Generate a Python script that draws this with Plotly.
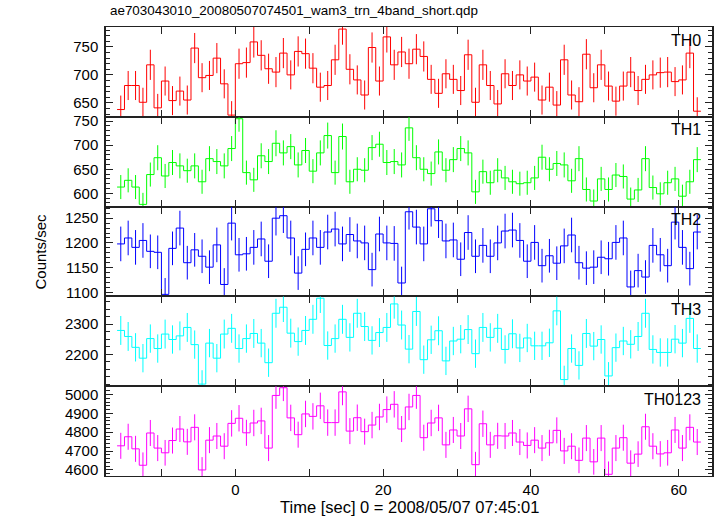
import plotly.graph_objects as go

# ---- data (bin centres in seconds, rates in counts/sec) ----
time = [-15.5, -14.5, -13.5, -12.5, -11.5, -10.5, -9.5, -8.5, -7.5, -6.5,
        -5.5, -4.5, -3.5, -2.5, -1.5, -0.5, 0.5, 1.5, 2.5, 3.5,
        4.5, 5.5, 6.5, 7.5, 8.5, 9.5, 10.5, 11.5, 12.5, 13.5,
        14.5, 15.5, 16.5, 17.5, 18.5, 19.5, 20.5, 21.5, 22.5, 23.5,
        24.5, 25.5, 26.5, 27.5, 28.5, 29.5, 30.5, 31.5, 32.5, 33.5,
        34.5, 35.5, 36.5, 37.5, 38.5, 39.5, 40.5, 41.5, 42.5, 43.5,
        44.5, 45.5, 46.5, 47.5, 48.5, 49.5, 50.5, 51.5, 52.5, 53.5,
        54.5, 55.5, 56.5, 57.5, 58.5, 59.5, 60.5, 61.5, 62.5]

th0 = [638, 681, 681, 651, 718, 641, 689, 654, 671, 655,
       748, 695, 699, 730, 684, 628, 720, 722, 759, 735,
       711, 705, 739, 700, 742, 738, 712, 678, 681, 727,
       782, 710, 691, 664, 749, 689, 768, 718, 741, 720,
       746, 733, 692, 667, 702, 692, 672, 736, 651, 718,
       681, 648, 702, 681, 700, 689, 696, 655, 678, 646,
       727, 664, 652, 737, 677, 718, 680, 653, 680, 705,
       672, 692, 700, 704, 705, 688, 691, 739, 635]
th0_err = [25, 26, 26, 26, 27, 25, 26, 26, 26, 26,
           27, 26, 26, 27, 26, 25, 27, 27, 28, 27,
           27, 27, 27, 26, 27, 27, 27, 26, 26, 27,
           28, 27, 26, 26, 27, 26, 28, 27, 27, 27,
           27, 27, 26, 26, 26, 26, 26, 27, 26, 27,
           26, 25, 26, 26, 26, 26, 26, 26, 26, 25,
           27, 26, 26, 27, 26, 27, 26, 26, 26, 27,
           26, 26, 26, 27, 27, 26, 26, 27, 25]

th1 = [613, 627, 613, 577, 639, 674, 636, 664, 657, 647,
       657, 624, 672, 666, 657, 693, 755, 643, 628, 678,
       666, 704, 684, 697, 659, 689, 646, 684, 720, 643,
       718, 624, 650, 648, 695, 702, 664, 666, 659, 736,
       674, 650, 641, 686, 648, 670, 693, 684, 603, 645,
       622, 648, 632, 624, 620, 622, 632, 675, 650, 662,
       659, 626, 672, 608, 584, 630, 608, 638, 635, 588,
       607, 672, 612, 599, 622, 630, 594, 624, 670]
th1_err = [25, 25, 25, 24, 25, 26, 25, 26, 26, 25,
           26, 25, 26, 26, 26, 26, 27, 25, 25, 26,
           26, 27, 26, 26, 26, 26, 25, 26, 27, 25,
           27, 25, 25, 25, 26, 26, 26, 26, 26, 27,
           26, 25, 25, 26, 25, 26, 26, 26, 25, 25,
           25, 25, 25, 25, 25, 25, 25, 26, 25, 26,
           26, 25, 26, 25, 24, 25, 25, 25, 25, 24,
           25, 26, 25, 24, 25, 25, 24, 25, 26]

th2 = [1198, 1210, 1191, 1205, 1183, 1181, 1096, 1189, 1230, 1160,
       1186, 1173, 1151, 1196, 1116, 1240, 1176, 1178, 1191, 1208,
       1163, 1250, 1255, 1210, 1139, 1187, 1210, 1191, 1222, 1228,
       1198, 1217, 1204, 1200, 1146, 1218, 1200, 1199, 1119, 1263,
       1232, 1198, 1269, 1245, 1204, 1206, 1167, 1221, 1173, 1195,
       1173, 1200, 1224, 1226, 1205, 1163, 1201, 1154, 1174, 1159,
       1194, 1216, 1160, 1149, 1151, 1171, 1168, 1201, 1210, 1111,
       1144, 1131, 1195, 1176, 1154, 1242, 1191, 1148, 1222]
th2_err = [35, 35, 35, 35, 34, 34, 33, 34, 35, 34,
           34, 34, 34, 35, 33, 35, 34, 34, 35, 35,
           34, 35, 35, 35, 34, 34, 35, 35, 35, 35,
           35, 35, 35, 35, 34, 35, 35, 35, 33, 36,
           35, 35, 36, 35, 35, 35, 34, 35, 34, 35,
           34, 35, 35, 35, 35, 34, 35, 34, 34, 34,
           35, 35, 34, 34, 34, 34, 34, 35, 35, 33,
           34, 34, 35, 34, 34, 35, 35, 34, 35]

th3 = [2279, 2259, 2223, 2187, 2252, 2219, 2267, 2249, 2261, 2289,
       2232, 2101, 2237, 2187, 2267, 2286, 2219, 2252, 2269, 2237,
       2172, 2336, 2356, 2270, 2242, 2279, 2316, 2386, 2229, 2252,
       2316, 2256, 2336, 2292, 2246, 2272, 2289, 2367, 2297, 2217,
       2342, 2182, 2248, 2278, 2178, 2244, 2250, 2282, 2202, 2289,
       2256, 2286, 2216, 2268, 2221, 2254, 2228, 2228, 2238, 2344,
       2116, 2219, 2163, 2269, 2227, 2249, 2128, 2222, 2244, 2233,
       2259, 2336, 2216, 2206, 2206, 2250, 2237, 2319, 2219]
th3_err = [48, 48, 47, 47, 47, 47, 48, 47, 48, 48,
           47, 46, 47, 47, 48, 48, 47, 47, 48, 47,
           47, 48, 49, 48, 47, 48, 48, 49, 47, 47,
           48, 47, 48, 48, 47, 48, 48, 49, 48, 47,
           48, 47, 47, 48, 47, 47, 47, 48, 47, 48,
           47, 48, 47, 48, 47, 47, 47, 47, 47, 48,
           46, 47, 47, 48, 47, 47, 46, 47, 47, 47,
           48, 48, 47, 47, 47, 47, 47, 48, 47]

th0123 = [4728, 4776, 4712, 4625, 4796, 4716, 4691, 4756, 4817, 4749,
          4826, 4600, 4758, 4780, 4726, 4847, 4874, 4797, 4849, 4860,
          4716, 4995, 5036, 4876, 4787, 4897, 4884, 4940, 4851, 4851,
          5014, 4806, 4877, 4803, 4838, 4881, 4920, 4948, 4817, 4934,
          4995, 4771, 4849, 4876, 4733, 4812, 4780, 4924, 4628, 4845,
          4733, 4781, 4780, 4796, 4748, 4730, 4758, 4716, 4744, 4810,
          4701, 4726, 4651, 4769, 4643, 4769, 4577, 4716, 4771, 4636,
          4684, 4829, 4726, 4685, 4691, 4812, 4716, 4826, 4748]
th0123_err = [69, 69, 69, 68, 69, 69, 68, 69, 69, 69,
              69, 68, 69, 69, 69, 70, 70, 69, 70, 70,
              69, 71, 71, 70, 69, 70, 70, 70, 70, 70,
              71, 69, 70, 69, 70, 70, 70, 70, 69, 70,
              71, 69, 70, 70, 69, 69, 69, 70, 68, 70,
              69, 69, 69, 69, 69, 69, 69, 69, 69, 69,
              69, 69, 68, 69, 68, 69, 68, 69, 69, 68,
              68, 69, 69, 68, 68, 69, 69, 69, 69]

panel_names = ["TH0", "TH1", "TH2", "TH3", "TH0123"]
bin_width = 1.0

title_text = "ae703043010_20080507074501_wam3_trn_4band_short.qdp"
xlabel = "Time [sec] 0 = 2008/05/07 07:45:01"
ylabel = "Counts/sec"

# ---- styling ----
series = [th0, th1, th2, th3, th0123]
errors = [th0_err, th1_err, th2_err, th3_err, th0123_err]
colors = ["#ff0000", "#00ff00", "#0000ff", "#00ffff", "#ff00ff"]
yranges = [[625, 785.7], [572.4, 759], [1091.9, 1273.4], [2094, 2392], [4568, 5044]]
ytickvals = [[650, 700, 750], [600, 650, 700, 750], [1100, 1150, 1200, 1250],
             [2200, 2300], [4600, 4700, 4800, 4900, 5000]]
minor_dt = [10, 10, 10, 25, 20]
xrange_ = [-17.5, 64.5]
xtickvals = [-10, 0, 10, 20, 30, 40, 50, 60]
xticktext = ["", "0", "", "20", "", "40", "", "60"]

W, H = 717, 516
ML, MR, MT, MB = 106, 5, 27, 40
FONT = "Liberation Sans, Arial, sans-serif"
AXC = "#222222"

fig = go.Figure()
n = len(series)
h = 1.0 / n
layout = {}
for k in range(n):
    sfx = "" if k == 0 else str(k + 1)
    vals = series[k]
    edges = [t - bin_width / 2 for t in time] + [time[-1] + bin_width / 2]
    steps = list(vals) + [vals[-1]]
    fig.add_trace(go.Scatter(
        x=edges, y=steps, mode="lines",
        line=dict(shape="hv", color=colors[k], width=1),
        xaxis="x" + sfx, yaxis="y" + sfx, showlegend=False, hoverinfo="skip"))
    fig.add_trace(go.Scatter(
        x=time, y=vals, mode="markers",
        marker=dict(size=1, color="rgba(0,0,0,0)"),
        error_y=dict(type="data", array=errors[k], color=colors[k],
                     thickness=1, width=0),
        xaxis="x" + sfx, yaxis="y" + sfx, showlegend=False))

    top = 1 - k * h
    bot = 1 - (k + 1) * h
    last = (k == n - 1)
    layout["xaxis" + sfx] = dict(
        domain=[0, 1], anchor="y" + sfx, range=xrange_, automargin=False,
        tickvals=xtickvals, ticktext=xticktext if last else [""] * len(xtickvals),
        showticklabels=last, ticks="inside", ticklen=7, tickwidth=1.2,
        tickcolor=AXC, showline=True, linecolor=AXC, linewidth=1,
        mirror="ticks", showgrid=False, zeroline=False,
        tickfont=dict(family=FONT, size=15, color="black"))
    layout["yaxis" + sfx] = dict(
        domain=[bot, top], anchor="x" + sfx, range=yranges[k], automargin=False,
        tickvals=ytickvals[k], ticks="inside", ticklen=7, tickwidth=1.2,
        tickcolor=AXC, showline=True, linecolor=AXC, linewidth=1.5,
        mirror="ticks", showgrid=False, zeroline=False,
        tickfont=dict(family=FONT, size=15, color="black"),
        ticklabelstandoff=3,
        minor=dict(dtick=minor_dt[k], ticks="inside", ticklen=4,
                   tickwidth=1, tickcolor=AXC, showgrid=False))

fig.update_layout(**layout)

annotations = []
for k in range(n):
    sfx = "" if k == 0 else str(k + 1)
    annotations.append(dict(
        text=panel_names[k], xref="x" + sfx + " domain", yref="y" + sfx + " domain",
        x=0.985, y=0.97, xanchor="right", yanchor="top", showarrow=False,
        font=dict(family=FONT, size=16, color="black")))
annotations.append(dict(
    text=title_text, xref="paper", yref="paper", x=0.003, y=1.0, yshift=17,
    xanchor="left", yanchor="middle", showarrow=False,
    font=dict(family=FONT, size=13.4, color="black")))
annotations.append(dict(
    text=ylabel, xref="paper", yref="paper", x=0, xshift=-66, y=0.5,
    xanchor="center", yanchor="middle", textangle=-90, showarrow=False,
    font=dict(family=FONT, size=15, color="black")))
annotations.append(dict(
    text=xlabel, xref="paper", yref="paper", x=0.5, y=0, yshift=-31,
    xanchor="center", yanchor="middle", showarrow=False,
    font=dict(family=FONT, size=16.5, color="black")))

fig.update_layout(
    width=W, height=H, margin=dict(l=ML, r=MR, t=MT, b=MB, pad=0, autoexpand=False),
    paper_bgcolor="white", plot_bgcolor="white",
    annotations=annotations, showlegend=False)

fig.write_html("out.html", config={"displayModeBar": False},
               post_script="document.body.style.margin='0px';document.body.style.overflow='hidden';")
